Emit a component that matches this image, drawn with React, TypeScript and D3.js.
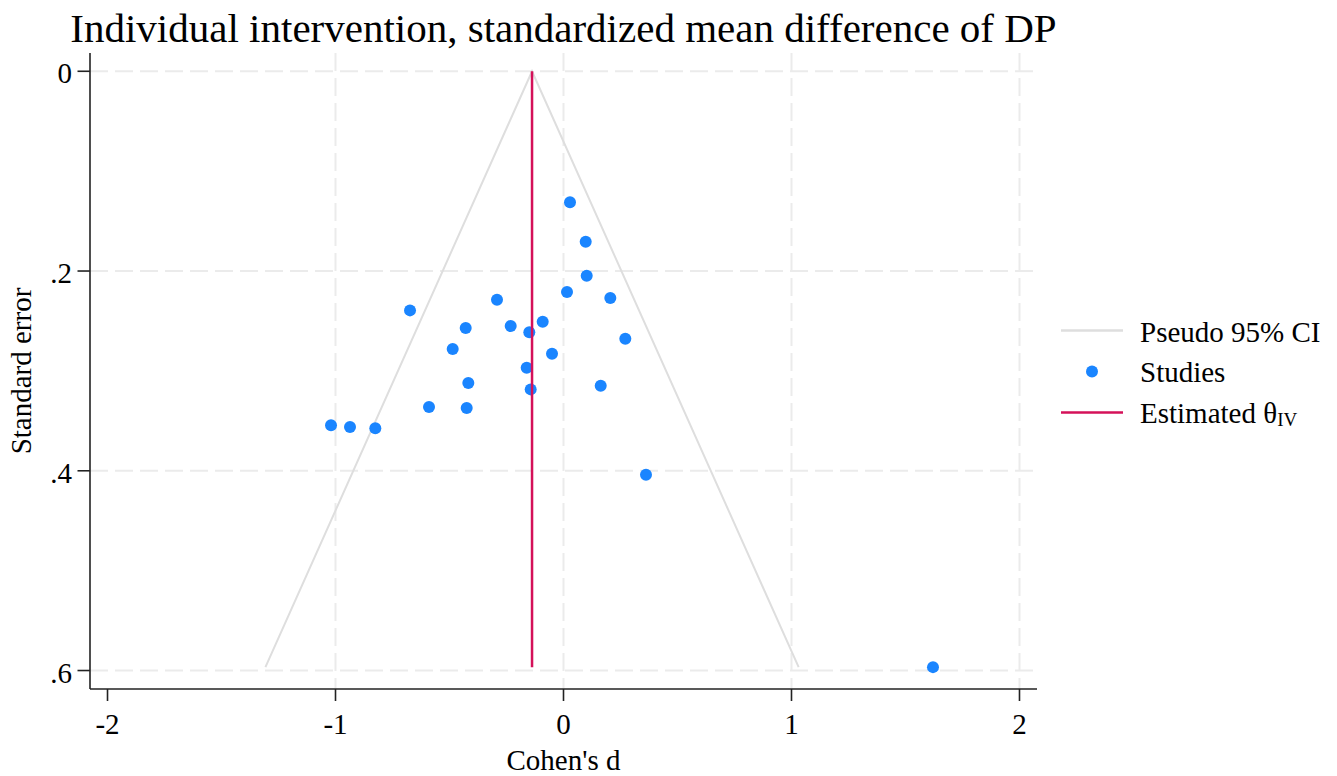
import React from "react";
import * as d3 from "d3";

const cohensD = [
  0.0285, 0.0974, 0.1018, 0.0154, 0.2053, -0.2917, -0.6732, -0.2316, -0.4289,
  -0.0912, -0.15, 0.2711, -0.486, -0.0504, -0.1614, -0.4175, 0.1632, -0.1439,
  -0.5899, -0.4246, -1.0197, -0.9364, -0.8254, 0.3618, 1.6206,
];
const stdErr = [
  0.1312, 0.1707, 0.2047, 0.221, 0.227, 0.2287, 0.2394, 0.2551, 0.2571,
  0.2508, 0.2614, 0.2678, 0.2781, 0.2828, 0.2968, 0.3122, 0.3149, 0.3185,
  0.3362, 0.3372, 0.3545, 0.3562, 0.3575, 0.404, 0.5966,
];
const thetaIV = -0.138;
const xTicks = [-2, -1, 0, 1, 2];
const xGrid = [-1, 0, 1, 2];
const yTicks = [0, 0.2, 0.4, 0.6];
const yTickLabels = ["0", ".2", ".4", ".6"];
const legendLabels = ["Pseudo 95% CI", "Studies", "Estimated "];

const W = 1337;
const H = 776;
const plot = { left: 90, right: 1037, top: 53, bottom: 689 };

const BLUE = "#1a85ff";
const RED = "#d41159";
const FUNNEL = "#dedede";
const GRID = "#ebebeb";
const AXIS = "#222";
const FONT = "'Liberation Serif', 'Times New Roman', serif";
const FS = 29;

export default function App() {
  const x = d3.scaleLinear().domain([-2.0768, 2.0768]).range([plot.left, plot.right]);
  const y = d3.scaleLinear().domain([-0.0183, 0.6185]).range([plot.top, plot.bottom]);
  const maxSE = d3.max(stdErr) as number;
  const funnel = d3.line<[number, number]>().x((d) => x(d[0])).y((d) => y(d[1]));
  const funnelPts: [number, number][] = [
    [thetaIV - 1.96 * maxSE, maxSE],
    [thetaIV, 0],
    [thetaIV + 1.96 * maxSE, maxSE],
  ];
  const midX = (plot.left + plot.right) / 2;
  const midY = (plot.top + plot.bottom) / 2;
  const lg = { x1: 1061, x2: 1123, tx: 1140, rows: [330.5, 371.5, 412.5] };

  return (
    <svg
      width={W}
      height={H}
      style={{ position: "absolute", left: 0, top: 0, display: "block", background: "#fff" }}
      fontFamily={FONT}
    >
      <rect x={0} y={0} width={W} height={H} fill="#fff" />
      {/* grid */}
      {yTicks.map((t) => (
        <line key={"gy" + t} x1={plot.left} x2={plot.right} y1={y(t)} y2={y(t)} stroke={GRID} strokeWidth={2} strokeDasharray="18 7" />
      ))}
      {xGrid.map((t) => (
        <line key={"gx" + t} x1={x(t)} x2={x(t)} y1={plot.top} y2={plot.bottom} stroke={GRID} strokeWidth={2} strokeDasharray="18 7" />
      ))}
      {/* funnel */}
      <path d={funnel(funnelPts) || ""} fill="none" stroke={FUNNEL} strokeWidth={2} />
      {/* studies */}
      {cohensD.map((d, i) => (
        <circle key={i} cx={x(d)} cy={y(stdErr[i])} r={6} fill={BLUE} />
      ))}
      {/* estimate */}
      <line x1={x(thetaIV)} x2={x(thetaIV)} y1={y(0)} y2={y(maxSE)} stroke={RED} strokeWidth={2.5} />
      {/* axes */}
      <line x1={plot.left} x2={plot.left} y1={plot.top} y2={plot.bottom} stroke={AXIS} strokeWidth={1.6} />
      <line x1={plot.left} x2={plot.right} y1={plot.bottom} y2={plot.bottom} stroke={AXIS} strokeWidth={1.6} />
      {yTicks.map((t, i) => (
        <g key={"ty" + t}>
          <line x1={plot.left - 12.5} x2={plot.left} y1={y(t)} y2={y(t)} stroke={AXIS} strokeWidth={1.6} />
          <text x={72} y={y(t) + 12} textAnchor="end" fontSize={FS} fill="#000">
            {yTickLabels[i]}
          </text>
        </g>
      ))}
      {xTicks.map((t) => (
        <g key={"tx" + t}>
          <line x1={x(t)} x2={x(t)} y1={plot.bottom} y2={plot.bottom + 12} stroke={AXIS} strokeWidth={1.6} />
          <text x={x(t)} y={734} textAnchor="middle" fontSize={FS} fill="#000">
            {t}
          </text>
        </g>
      ))}
      {/* axis titles */}
      <text x={midX} y={770} textAnchor="middle" fontSize={FS} fill="#000">
        Cohen's d
      </text>
      <text transform={`translate(31,${midY}) rotate(-90)`} textAnchor="middle" fontSize={FS} fill="#000">
        Standard error
      </text>
      {/* title */}
      <text x={midX} y={42} textAnchor="middle" fontSize={41} fill="#000">
        Individual intervention, standardized mean difference of DP
      </text>
      {/* legend */}
      <line x1={lg.x1} x2={lg.x2} y1={lg.rows[0]} y2={lg.rows[0]} stroke={FUNNEL} strokeWidth={2.5} />
      <circle cx={(lg.x1 + lg.x2) / 2} cy={lg.rows[1]} r={6} fill={BLUE} />
      <line x1={lg.x1} x2={lg.x2} y1={lg.rows[2]} y2={lg.rows[2]} stroke={RED} strokeWidth={2.5} />
      <text x={lg.tx} y={lg.rows[0] + 11} fontSize={FS} fill="#000">
        {legendLabels[0]}
      </text>
      <text x={lg.tx} y={lg.rows[1] + 10.5} fontSize={FS} fill="#000">
        {legendLabels[1]}
      </text>
      <text x={lg.tx} y={lg.rows[2] + 10} fontSize={FS} fill="#000">
        {legendLabels[2].trim()} θ
        <tspan fontSize={19} dy={3}>IV</tspan>
      </text>
    </svg>
  );
}
